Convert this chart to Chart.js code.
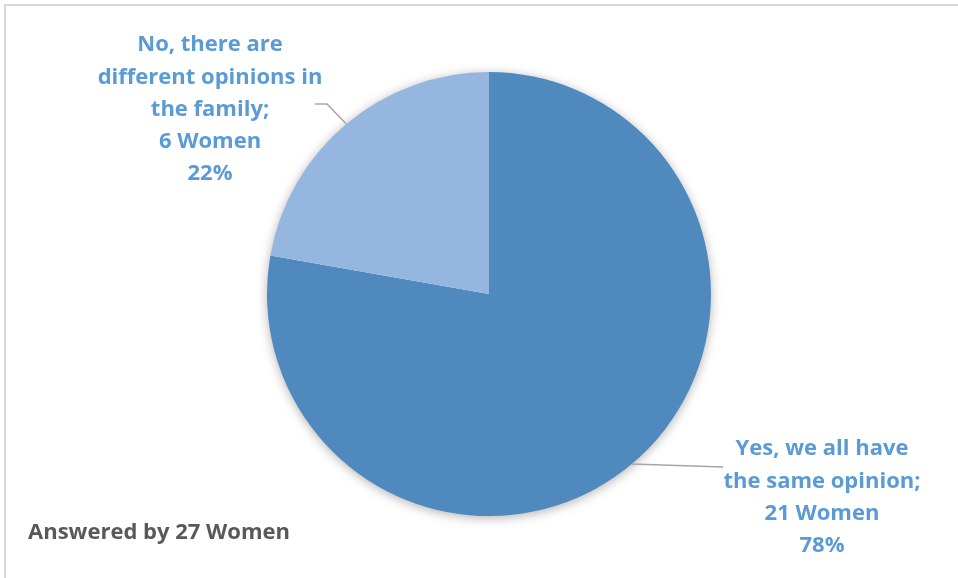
<!DOCTYPE html>
<html>
<head>
<meta charset="utf-8">
<script src="https://cdn.jsdelivr.net/npm/chart.js@4.4.1/dist/chart.umd.min.js"></script>
<style>
  html, body { margin: 0; padding: 0; background: #fff; }
  #frame {
    position: absolute; left: 4px; top: 4px;
    width: 980px; height: 600px;
    border-top: 2px solid #d9d9d9; border-left: 2px solid #d9d9d9;
  }
  #pie { position: absolute; left: 0; top: 0; }
</style>
</head>
<body>
<div id="frame"></div>
<canvas id="pie" width="958" height="578"></canvas>
<script>
// answers to "does the family share the same opinion?"
const answerLabels = [
    ['Yes, we all have', 'the same opinion;'],
    ['No, there are', 'different opinions in', 'the family;']
];
const womenCounts = [21, 6];
const sliceColors = ['#4f89bd', '#95b6de'];

// where each label block sits and how its leader line bends
const labelPlacement = [
    { textX: 822, textY: 449, elbow: null, end: [723, 467] },
    { textX: 210, textY: 45, elbow: [327, 104], end: [315, 104] }
];

const total = womenCounts.reduce((a, b) => a + b, 0);

const pieExtras = {
    id: 'pieExtras',
    beforeDatasetsDraw(chart) {
        const arc = chart.getDatasetMeta(0).data[0];
        const ctx = chart.ctx;
        ctx.save();
        ctx.shadowColor = 'rgba(0,0,0,0.35)';
        ctx.shadowBlur = 12;
        ctx.shadowOffsetY = 2;
        ctx.fillStyle = '#ffffff';
        ctx.beginPath();
        ctx.arc(arc.x, arc.y, arc.outerRadius - 1, 0, Math.PI * 2);
        ctx.fill();
        ctx.restore();
    },
    afterDatasetsDraw(chart) {
        const ctx = chart.ctx;
        const meta = chart.getDatasetMeta(0);
        meta.data.forEach(function (arc, i) {
            const mid = (arc.startAngle + arc.endAngle) / 2;
            const sx = arc.x + Math.cos(mid) * arc.outerRadius;
            const sy = arc.y + Math.sin(mid) * arc.outerRadius;
            const p = labelPlacement[i];

            ctx.save();
            ctx.strokeStyle = '#a6a6a6';
            ctx.lineWidth = 1.5;
            ctx.beginPath();
            ctx.moveTo(sx, sy);
            if (p.elbow) ctx.lineTo(p.elbow[0], p.elbow[1]);
            ctx.lineTo(p.end[0], p.end[1]);
            ctx.stroke();

            const pct = Math.round(womenCounts[i] / total * 100);
            const lines = answerLabels[i].concat([womenCounts[i] + ' Women', pct + '%']);
            ctx.fillStyle = '#5b9bd5';
            ctx.font = 'bold 22px "Open Sans"';
            ctx.textAlign = 'center';
            ctx.textBaseline = 'middle';
            lines.forEach(function (line, k) {
                ctx.fillText(line, p.textX, p.textY + k * 32.3);
            });
            ctx.restore();
        });

        ctx.save();
        ctx.fillStyle = '#595959';
        ctx.font = 'bold 22px "Open Sans"';
        ctx.textAlign = 'left';
        ctx.textBaseline = 'middle';
        ctx.fillText('Answered by ' + total + ' Women', 28, 533);
        ctx.restore();
    }
};

new Chart(document.getElementById('pie'), {
    type: 'pie',
    data: {
        labels: answerLabels.map(l => l.join(' ')),
        datasets: [{
            data: womenCounts,
            backgroundColor: sliceColors,
            borderWidth: 0
        }]
    },
    options: {
        responsive: false,
        animation: false,
        layout: {
            padding: { top: 72, bottom: 62, left: 267, right: 247 }
        },
        plugins: {
            legend: { display: false },
            tooltip: { enabled: false }
        }
    },
    plugins: [pieExtras]
});
</script>
</body>
</html>
